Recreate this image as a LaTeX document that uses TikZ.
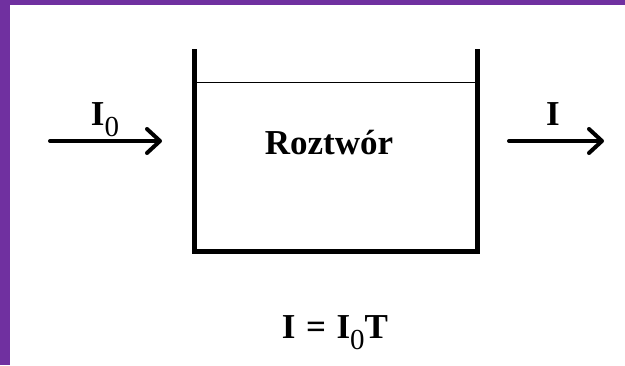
\documentclass[tikz,border=0pt]{standalone}
\usepackage{fontspec}
\setmainfont{Liberation Serif}
\usepackage{xcolor}
\usetikzlibrary{arrows.meta,positioning}
\definecolor{frame}{RGB}{112,48,160}
\newcommand{\zero}{\raisebox{-0.7ex}{\mdseries\fontsize{29}{30}\selectfont 0}}

\begin{document}
\begin{tikzpicture}[x=1pt,y=-1pt,
  lbl/.style={anchor=base,inner sep=0pt,font=\bfseries\fontsize{35}{40}\selectfont},
  beam/.style={line width=4pt,line cap=round,-{Straight Barb[length=13pt,width=24pt,line cap=round,line join=round]}}]
\useasboundingbox (0,0) rectangle (625,365);
\fill[frame] (0,0) rectangle (625,365);
\fill[white] (10,5) rectangle (625,365);
% cuvette
\draw[line width=0.8pt] (195,82)--(477,82);
\draw[line width=5pt,line join=miter] (194.5,49)--(194.5,251.5)--(477,251.5)--(477,49);
\node[lbl] (sol) at (329,154) {Roztwór};
% beams
\coordinate (in0) at (50,141); \coordinate (in1) at (162,141);
\coordinate (out0) at (509,141); \coordinate (out1) at (604,141);
\draw[beam] (in0)--(in1);
\draw[beam] (out0)--(out1);
\node[lbl] (i0) at (105,125) {I\zero};
\node[lbl] (i) at (553,125) {I};
\node[lbl] (law) at (335,338) {I\hspace{0.3em}=\hspace{0.3em}I\zero T};
\end{tikzpicture}
\end{document}
